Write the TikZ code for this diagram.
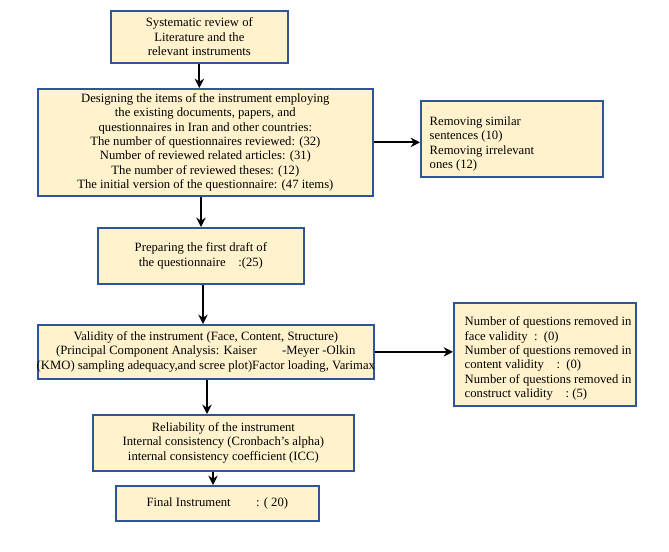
\documentclass[tikz,border=0pt]{standalone}
\usepackage{fontspec}
\setmainfont{Liberation Serif}
\usetikzlibrary{arrows.meta}
\definecolor{bord}{HTML}{2F5597}
\definecolor{fil}{HTML}{FFF2CC}
\begin{document}
\begin{tikzpicture}[x=0.75pt,y=-0.75pt,
 box/.style={draw=bord,line width=1.3pt,fill=fil,inner sep=0pt},
 arr/.style={line width=1.6pt,-{Stealth[length=7pt,width=7pt]}},
 txt/.style={font=\fontsize{9.5}{10.8}\selectfont,align=center}]
\useasboundingbox (0,0) rectangle (669,551);
\node[box,minimum width=177*0.75pt,minimum height=52*0.75pt,anchor=north west] (b1) at (110,10) {};
\node[txt] at (b1.center) {Systematic review of\\Literature and the\\relevant instruments};
\node[box,minimum width=335*0.75pt,minimum height=107*0.75pt,anchor=north west] (b2) at (37,88) {};
\node[txt] at (b2.center) {Designing the items of the instrument employing\\the existing documents, papers, and\\questionnaires in Iran and other countries:\\The number of questionnaires reviewed: (32)\\Number of reviewed related articles: (31)\\The number of reviewed theses: (12)\\The initial version of the questionnaire: (47 items)};
\node[box,minimum width=182*0.75pt,minimum height=76*0.75pt,anchor=north west] (b3) at (420,100) {};
\node[txt,align=left,anchor=north west] at (425,112) {Removing similar\\sentences (10)\\Removing irrelevant\\ones (12)};
\node[box,minimum width=206*0.75pt,minimum height=56*0.75pt,anchor=north west] (b4) at (97,227) {};
\node[txt] at (b4.center) {Preparing the first draft of\\the questionnaire\quad:(25)};
\node[box,minimum width=336*0.75pt,minimum height=54*0.75pt,anchor=north west] (b5) at (37,324) {};
\node[txt] at (b5.center) {Validity of the instrument (Face, Content, Structure)\\(Principal Component Analysis: Kaiser\qquad -Meyer\ -Olkin\\(KMO) sampling adequacy,and scree plot)Factor loading, Varimax};
\node[box,minimum width=182*0.75pt,minimum height=103*0.75pt,anchor=north west] (b6) at (453,302) {};
\node[txt,align=left,anchor=north west] at (460,312) {Number of questions removed in\\face validity\ \ :\ \ (0)\\Number of questions removed in\\content validity\quad:\ \ (0)\\Number of questions removed in\\construct validity\quad:\ (5)};
\node[box,minimum width=261*0.75pt,minimum height=56*0.75pt,anchor=north west] (b7) at (92,414) {};
\node[txt] at (b7.center) {Reliability of the instrument\\Internal consistency (Cronbach's alpha)\\internal consistency coefficient (ICC)};
\node[box,minimum width=203*0.75pt,minimum height=35*0.75pt,anchor=north west] (b8) at (115,485) {};
\node[txt] at (b8.center) {Final Instrument\qquad: ( 20)};
\draw[arr] (b1) -- (b2.north -| b1);
\draw[arr] (b2.east) -- (b3.west |- b2.east);
\draw[arr] (b2.south -| 201,0) -- (b4.north -| 201,0);
\draw[arr] (b4.south -| 203,0) -- (b5.north -| 203,0);
\draw[arr] (b5.east) -- (b6.west |- b5.east);
\draw[arr] (b5.south -| 207,0) -- (b7.north -| 207,0);
\draw[arr] (b7.south -| 213,0) -- (b8.north -| 213,0);
\end{tikzpicture}
\end{document}
